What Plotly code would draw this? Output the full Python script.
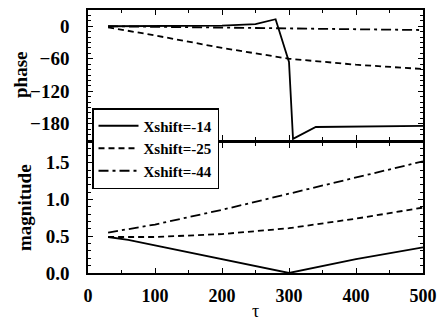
import plotly.graph_objects as go

# Phase response (degrees) vs tau for three shifts
tau_p14 = [30, 100, 200, 250, 280, 300, 306, 340, 400, 500]
phase_p14 = [0, 0, 1, 4, 13, -66, -208, -186, -185, -184]

tau_p25 = [30, 100, 200, 300, 400, 500]
phase_p25 = [-2, -17, -40, -60, -71, -79]

tau_p44 = [30, 100, 200, 300, 400, 500]
phase_p44 = [0, -1, -3, -4, -6, -7]

# Magnitude response vs tau
tau_m14 = [30, 60, 300, 400, 500]
mag_m14 = [0.49, 0.45, 0.0, 0.19, 0.35]

tau_m25 = [30, 100, 200, 300, 400, 500]
mag_m25 = [0.49, 0.49, 0.53, 0.61, 0.74, 0.89]

tau_m44 = [30, 100, 200, 300, 400, 500]
mag_m44 = [0.55, 0.66, 0.86, 1.08, 1.30, 1.52]

# Tick labels
phase_ticks = [0, -60, -120, -180]
phase_ticktext = ["0", "\u221260", "\u2212120", "\u2212180"]
mag_ticks = [0, 0.5, 1.0, 1.5]
mag_ticktext = ["0.0", "0.5", "1.0", "1.5"]

names = ["Xshift=-14", "Xshift=-25", "Xshift=-44"]
dashes = ["solid", "6px,4px", "10px,4px,3px,4px"]

FONT = "Liberation Serif"

fig = go.Figure()

phase_sets = [(tau_p14, phase_p14), (tau_p25, phase_p25), (tau_p44, phase_p44)]
mag_sets = [(tau_m14, mag_m14), (tau_m25, mag_m25), (tau_m44, mag_m44)]

for i, (t, p) in enumerate(phase_sets):
    fig.add_trace(go.Scatter(
        x=t, y=p, mode="lines", name=names[i], legendgroup=names[i],
        line=dict(color="black", width=1.8, dash=dashes[i]),
        xaxis="x", yaxis="y", showlegend=True))

for i, (t, m) in enumerate(mag_sets):
    fig.add_trace(go.Scatter(
        x=t, y=m, mode="lines", name=names[i], legendgroup=names[i],
        line=dict(color="black", width=1.8, dash=dashes[i]),
        xaxis="x2", yaxis="y2", showlegend=False))

axis_common = dict(
    showline=True, linecolor="black", linewidth=1.5, mirror="allticks",
    ticks="inside", ticklen=5, tickwidth=1.3, tickcolor="black",
    showgrid=False, zeroline=False, automargin=False,
    tickfont=dict(family=FONT, size=18, color="black", weight="bold"),
)
ytickfont = dict(family=FONT, size=19, color="black", weight="bold")
minor_x = dict(ticks="inside", ticklen=3, tickwidth=1, tickcolor="black", dtick=50, showgrid=False)

top_dom = [(273 - 140) / 263, 1.0]
bot_dom = [0.0, (273 - 143) / 263]

title_font = dict(family=FONT, size=19, color="black", weight="bold")

fig.update_layout(
    width=442, height=321,
    margin=dict(l=88, r=19, t=10, b=48),
    plot_bgcolor="white", paper_bgcolor="white",
    font=dict(family=FONT, color="black"),
    xaxis=dict(axis_common, range=[0, 500], dtick=100, anchor="y",
               showticklabels=False, minor=minor_x),
    yaxis=dict(axis_common, domain=top_dom, range=[-210, 30],
               tickvals=phase_ticks, ticktext=phase_ticktext, anchor="x",
               tickfont=ytickfont,
               minor=dict(ticks="inside", ticklen=3, tickwidth=1, tickcolor="black", dtick=10, showgrid=False),
               ticklabelstandoff=13),
    xaxis2=dict(axis_common, range=[0, 500], dtick=100, anchor="y2",
                minor=minor_x, ticklabelstandoff=6,
                title=dict(text="τ", standoff=2,
                           font=dict(family=FONT, size=18, color="black"))),
    yaxis2=dict(axis_common, domain=bot_dom, range=[0, 1.77],
                tickvals=mag_ticks, ticktext=mag_ticktext, anchor="x2",
                tickfont=ytickfont,
                minor=dict(ticks="inside", ticklen=3, tickwidth=1, tickcolor="black", dtick=0.1, showgrid=False),
                ticklabelstandoff=13),
    legend=dict(
        x=(92 - 88) / 335, y=(273 - 108) / 263, xanchor="left", yanchor="top",
        bgcolor="white", bordercolor="black", borderwidth=1.5,
        font=dict(family=FONT, size=15, color="black", weight="bold"),
        tracegroupgap=0, itemwidth=40,
    ),
    annotations=[
        dict(text="phase", xref="paper", yref="paper",
             x=(20 - 88) / 335, y=sum(top_dom) / 2, textangle=-90,
             showarrow=False, font=title_font, xanchor="center", yanchor="middle"),
        dict(text="magnitude", xref="paper", yref="paper",
             x=(24 - 88) / 335, y=sum(bot_dom) / 2, textangle=-90,
             showarrow=False, font=title_font, xanchor="center", yanchor="middle"),
    ],
)

fig.write_html("out.html")
